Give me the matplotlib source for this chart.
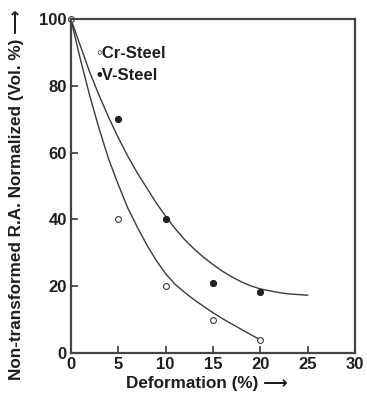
import matplotlib
matplotlib.use("Agg")
import matplotlib.pyplot as plt

# measured points
cr_x = [0, 5, 10, 15, 20]
cr_y = [100, 40, 20, 10, 4]
v_x = [5, 10, 15, 20]
v_y = [70, 40, 21, 18.3]

# fitted curves
cr_curve_x = [0, 1, 2, 3, 4, 5, 6, 7, 8, 9, 10, 11, 12, 13, 14, 15, 16, 17, 18, 19, 20]
cr_curve_y = [100, 88, 77, 67, 58, 50.5, 43.5, 37.8, 32.5, 27.8, 23.8, 20.6, 18.2, 16.0,
              14.0, 12.1, 10.3, 8.7, 7.1, 5.5, 4]
v_curve_x = [0, 1, 2, 3, 4, 5, 6, 7, 8, 9, 10, 11, 12, 13, 14, 15, 16, 17, 18, 19, 20,
             21, 22, 23, 24, 25]
v_curve_y = [100, 92, 84, 77, 70.5, 64.5, 59, 54, 49.5, 45, 41, 37.3, 34, 31.2, 28.7,
             26.5, 24.5, 22.8, 21.3, 20.1, 19.2, 18.6, 18.1, 17.7, 17.5, 17.3]

x_ticks = [0, 5, 10, 15, 20, 25, 30]
y_ticks = [0, 20, 40, 60, 80, 100]

plt.rcParams["font.family"] = ["Liberation Sans", "DejaVu Sans"]
plt.rcParams["font.weight"] = "bold"

fig = plt.figure(figsize=(3.67, 3.94), dpi=100)
ax = fig.add_axes([0.193, 0.104, 0.774, 0.848])

line_col = "#3a3a3a"
txt_col = "#1e1e1e"
ax.plot(cr_curve_x, cr_curve_y, color=line_col, lw=1.0)
ax.plot(v_curve_x, v_curve_y, color=line_col, lw=1.0)
ax.plot(cr_x, cr_y, "o", ms=4.2, mfc="white", mec=line_col, mew=0.8, clip_on=False)
ax.plot(v_x, v_y, "o", ms=4.2, mfc="#222222", mec="#222222", clip_on=False)

ax.set_xlim(0, 30)
ax.set_ylim(0, 100)
ax.set_xticks(x_ticks)
ax.set_yticks(y_ticks)
ax.tick_params(direction="in", length=5, width=1.2, color=line_col,
               labelsize=12, pad=3)
for lab in ax.get_xticklabels() + ax.get_yticklabels():
    lab.set_fontweight("bold")
    lab.set_color(txt_col)
for sp in ax.spines.values():
    sp.set_linewidth(1.6)
    sp.set_color("#444444")

# legend as plain text
ax.text(2.7, 89.5, "\u25e6Cr-Steel", fontsize=12, fontweight="bold", color=txt_col,
        va="center", ha="left")
ax.text(2.7, 83, "\u2022V-Steel", fontsize=12, fontweight="bold", color=txt_col,
        va="center", ha="left")

ax.set_xlabel("Deformation (%) \u27f6", fontsize=12.3, fontweight="bold", color=txt_col)
ax.xaxis.set_label_coords(0.48, -0.068)
ax.set_ylabel("Non-transformed R.A. Normalized (Vol. %) \u27f6", fontsize=12.3,
              fontweight="bold", color=txt_col)
ax.yaxis.set_label_coords(-0.165, 0.473)

fig.savefig("out.png", dpi=100)
